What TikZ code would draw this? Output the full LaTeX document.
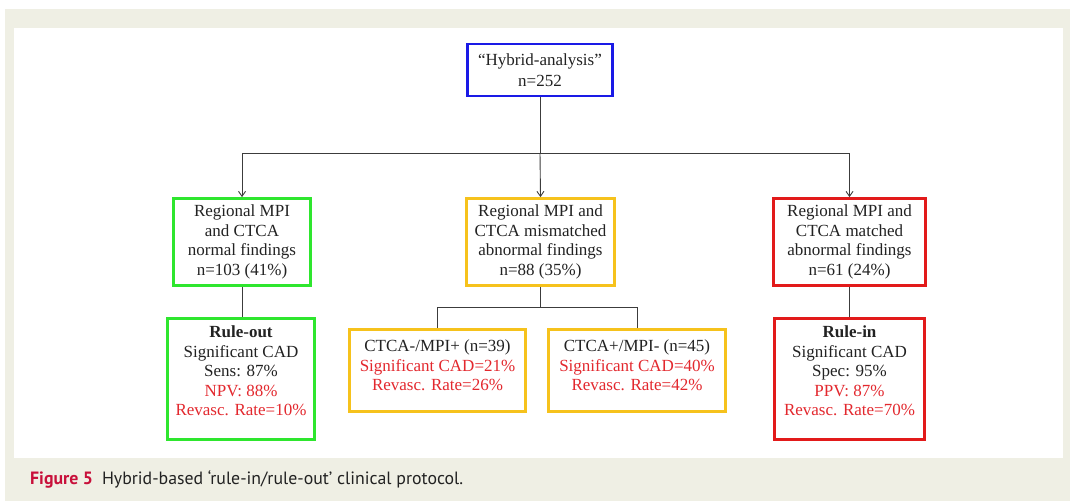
\documentclass[tikz,border=0pt]{standalone}
\usepackage{fontspec}
\setmainfont{Liberation Serif}
\newfontfamily\capfont{PT Sans}
\usetikzlibrary{arrows.meta}
\definecolor{panel}{HTML}{EFEFE4}
\definecolor{bxblue}{HTML}{1A1AE6}
\definecolor{bxgreen}{HTML}{2EE62E}
\definecolor{bxyellow}{HTML}{F6C21C}
\definecolor{bxred}{HTML}{E21A1A}
\definecolor{txtred}{HTML}{E3282E}
\definecolor{capred}{HTML}{C8103A}
\definecolor{txt}{HTML}{222222}
\definecolor{conn}{HTML}{3C3C3C}
\newcommand{\rd}[1]{\textcolor{txtred}{#1}}
\newcommand{\padl}{\\[-9pt]\strut}
\newcommand{\padm}{\\[-15pt]\strut}
\begin{document}
\begin{tikzpicture}[x=1pt,y=-1pt,
  box/.style={draw, line width=2.8pt, fill=white, align=center, text=txt,
    font=\fontsize{17}{19.6}\selectfont, inner sep=0pt},
  link/.style={draw=conn, line width=0.9pt},
  arr/.style={link, -{Straight Barb[length=5pt,width=7pt]}}]
\useasboundingbox (0,0) rectangle (1070,501);
\fill[white] (0,0) rectangle (1070,501);
\fill[panel] (5,9) rectangle (1070,501);
\fill[white] (14,28) rectangle (1063,458);

\node[box, draw=bxblue, minimum width=145pt, minimum height=52pt] (top) at (540,70)
  {\textquotedblleft Hybrid-analysis\textquotedblright\\[1pt] n=252};

\node[box, draw=bxgreen, minimum width=137pt, minimum height=87pt] (g1) at (242,242)
  {Regional MPI\\ and CTCA\\ normal findings\\ n=103 (41\%)};
\node[box, draw=bxyellow, minimum width=148pt, minimum height=87pt] (y1) at (540.5,242)
  {Regional MPI and\\ CTCA mismatched\\ abnormal findings\\ n=88 (35\%)};
\node[box, draw=bxred, minimum width=152pt, minimum height=87pt] (r1) at (849.5,242)
  {Regional MPI and\\ CTCA matched\\ abnormal findings\\ n=61 (24\%)};

\node[box, draw=bxgreen, minimum width=147pt, minimum height=121pt] (g2) at (241,379)
  {\textbf{Rule-out}\\ Significant CAD\\ Sens: 87\%\\ \rd{NPV: 88\%}\\ \rd{Revasc. Rate=10\%}\padl};
\node[box, draw=bxyellow, minimum width=176pt, minimum height=82pt] (m1) at (437.5,370.5)
  {CTCA-/MPI+ (n=39)\\ \rd{Significant CAD=21\%}\\ \rd{Revasc. Rate=26\%}\padm};
\node[box, draw=bxyellow, minimum width=177pt, minimum height=82pt] (m2) at (637,370.5)
  {CTCA+/MPI- (n=45)\\ \rd{Significant CAD=40\%}\\ \rd{Revasc. Rate=42\%}\padm};
\node[box, draw=bxred, minimum width=150pt, minimum height=121pt] (r2) at (849.5,379)
  {\textbf{Rule-in}\\ Significant CAD\\ Spec: 95\%\\ \rd{PPV: 87\%}\\ \rd{Revasc. Rate=70\%}\padl};

\coordinate (j1) at (540,153);
\draw[link] (top.south) -- (j1);
\draw[arr] (j1) -| (g1.north);
\draw[arr] (j1) -| (r1.north);
\draw[arr] (j1) -- (y1.north);

\coordinate (j2) at (540.5,307);
\draw[link] (y1.south) -- (j2);
\draw[link] (j2) -| (m1.north);
\draw[link] (j2) -| (m2.north);

\draw[link] (g1.south) -- (g1.south |- g2.north);
\draw[link] (r1.south) -- (r1.south |- r2.north);

\node[anchor=base west, inner sep=0pt, font=\capfont\fontsize{17.8}{20}\selectfont, text=txt] (cap) at (30,484)
  {\textcolor{capred}{\bfseries Figure 5}\hspace{9pt}Hybrid-based \textquoteleft rule-in/rule-out\textquoteright\ clinical protocol.};
\end{tikzpicture}
\end{document}
